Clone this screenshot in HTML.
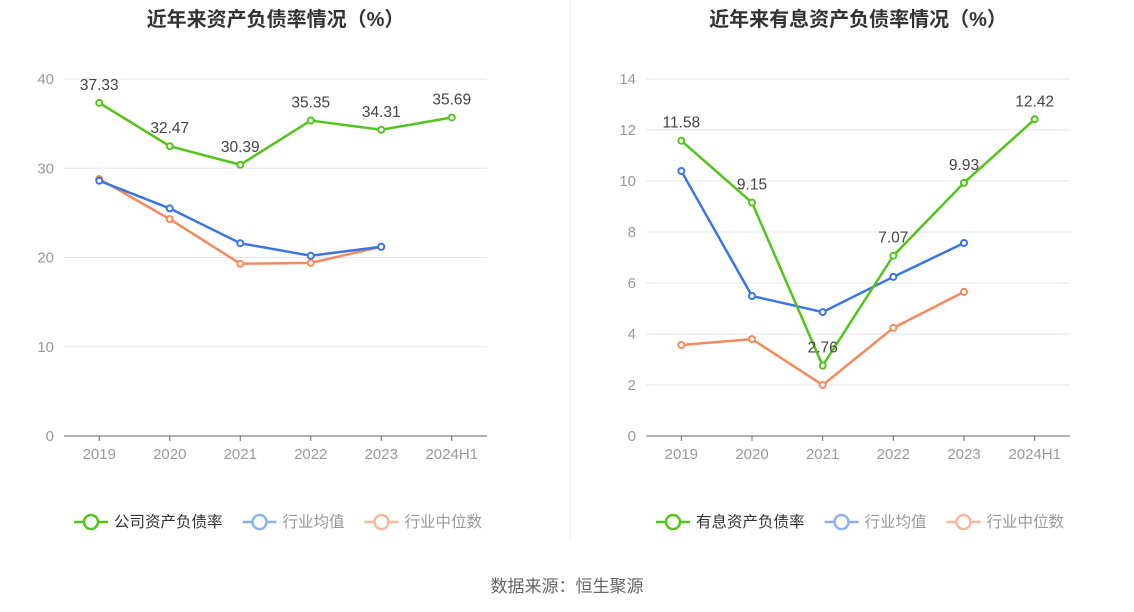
<!DOCTYPE html>
<html><head><meta charset="utf-8"><style>
body{margin:0;background:#fff;font-family:"Liberation Sans","Noto Sans CJK SC",sans-serif;}
svg{display:block}
</style></head><body>
<svg id="svg" width="1134" height="612"></svg>
<script>
const cats=["2019","2020","2021","2022","2023","2024H1"];
const leftCompany=[37.33,32.47,30.39,35.35,34.31,35.69];
const leftAvg=[28.6,25.5,21.6,20.2,21.2];
const leftMed=[28.8,24.3,19.3,19.4,21.2];
const leftTicks=[0,10,20,30,40];
const rightCompany=[11.58,9.15,2.76,7.07,9.93,12.42];
const rightAvg=[10.39,5.49,4.86,6.24,7.57];
const rightMed=[3.57,3.80,2.0,4.24,5.65];
const rightTicks=[0,2,4,6,8,10,12,14];
const NS="http://www.w3.org/2000/svg";
const svg=document.getElementById('svg');
function mk(tag,attrs,parent,text){const e=document.createElementNS(NS,tag);for(const k in attrs)e.setAttribute(k,attrs[k]);if(text!==undefined)e.textContent=text;(parent||svg).appendChild(e);return e;}
const G="#52c41a",B="#3a75e8",O="#f5895a";
function chart(cfg){
 const g=mk('g',{});
 
 
 const x0=cfg.x0,x1=cfg.x1,yb=436,yt=79,max=cfg.ticks[cfg.ticks.length-1];
 const bw=(x1-x0)/cats.length;
 const X=i=>x0+bw*(i+0.5);
 const Y=v=>yb-(v/max)*(yb-yt);
 const t=mk('text',{x:(x0+x1)/2,y:26,'text-anchor':'middle','font-size':20,'font-weight':'bold',fill:'#333'},g,cfg.title);
 
 cfg.ticks.forEach(v=>{
  if(v>0){const l=mk('line',{x1:x0,x2:x1,y1:Y(v),y2:Y(v),stroke:'#e0e6f3','stroke-width':1},g);}
  const tl=mk('text',{x:x0-10,y:Y(v)+5,'text-anchor':'end','font-size':15,fill:'#999'},g,String(v));
  
 });
 const ax=mk('line',{x1:x0,x2:x1,y1:yb,y2:yb,stroke:'#666','stroke-width':1},g);
 
 cats.forEach((c,i)=>{
  const tk=mk('line',{x1:X(i),x2:X(i),y1:yb,y2:yb+5,stroke:'#666'},g);
  
  const tl=mk('text',{x:X(i),y:yb+23,'text-anchor':'middle','font-size':15,fill:'#999'},g,c);
  
 });
 function series(vals,color,name,labels){
  const p=mk('polyline',{points:vals.map((v,i)=>X(i)+','+Y(v)).join(' '),fill:'none',stroke:color,'stroke-width':2.5},g);
  
  vals.forEach((v,i)=>{
   const c=mk('circle',{cx:X(i),cy:Y(v),r:3,fill:'#fff',stroke:color,'stroke-width':2},g);
   
   if(labels){const lt=mk('text',{x:X(i),y:Y(v)-13,'text-anchor':'middle','font-size':15.5,fill:'#444'},g,v.toFixed(2));
    }
  });
 }
 series(cfg.med,O,'industry-median');
 series(cfg.avg,B,'industry-average');
 series(cfg.comp,G,'company',true);
 const items=[[cfg.legend,G,'#333'],['行业均值','#8fb0f0','#999'],['行业中位数','#fbb69a','#999']];
 let lx=cfg.legendX;
 items.forEach(([txt,col,tc])=>{
  const lg=mk('g',{},g);
  mk('line',{x1:lx,x2:lx+34,y1:522,y2:522,stroke:col,'stroke-width':2.5},lg);
  mk('circle',{cx:lx+17,cy:522,r:7,fill:'#fff',stroke:col,'stroke-width':2.5},lg);
  mk('text',{x:lx+40,y:527,'font-size':15.5,fill:tc},lg,txt);
  lx+=40+txt.length*15.5+20;
 });
}
chart({name:'left-chart',x0:64,x1:487,ticks:leftTicks,title:'近年来资产负债率情况（%）',comp:leftCompany,avg:leftAvg,med:leftMed,legend:'公司资产负债率',legendX:74});
chart({name:'right-chart',x0:646,x1:1070,ticks:rightTicks,title:'近年来有息资产负债率情况（%）',comp:rightCompany,avg:rightAvg,med:rightMed,legend:'有息资产负债率',legendX:656});
const d=mk('line',{x1:570,x2:570,y1:0,y2:540,stroke:'#eee'});
const s=mk('text',{x:567,y:592,'text-anchor':'middle','font-size':17,fill:'#666'},svg,'数据来源：恒生聚源');

</script>
</body></html>
